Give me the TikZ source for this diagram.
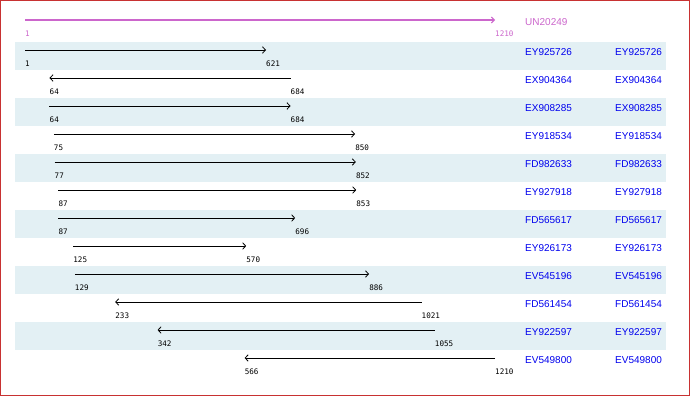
\documentclass[tikz,border=0pt]{standalone}
\usepackage{fontspec}
\setmainfont{Liberation Sans}
\newfontfamily\monof{DejaVu Sans Mono}
\usetikzlibrary{arrows.meta}
\definecolor{band}{RGB}{227,240,244}
\definecolor{magen}{RGB}{204,102,204}
\definecolor{namec}{RGB}{0,0,238}
\definecolor{frame}{RGB}{200,50,50}
\tikzset{
  bandrow/.style={fill=band,draw=none},
  seqarrow/.style={draw=black,line width=0.9pt,-{Straight Barb[length=3pt,width=6.5pt,line width=0.8pt]}},
  poslab/.style={anchor=west,inner sep=0pt,font=\monof\fontsize{7.6}{8}\selectfont,text=black},
  namelab/.style={anchor=west,inner sep=0pt,font=\fontsize{10}{12}\selectfont,text=namec},
}
\begin{document}
\begin{tikzpicture}[x=1pt,y=-1pt]
\useasboundingbox (0,0) rectangle (690,396);
\fill[white] (0,0) rectangle (690,396);
% bands
\foreach \i in {0,2,4,6,8,10}{
  \fill[band] (15,{42+28*\i}) rectangle (666,{70+28*\i});
}
% top reference line
\coordinate (r1) at (25,20);
\coordinate (r2) at (495,20);
\draw[magen,line width=2pt,-{Straight Barb[length=3pt,width=6pt,line width=1pt]}] (r1) -- (r2);
\node[poslab,text=magen] (rl1) at (25,34) {1};
\node[poslab,text=magen] (rl2) at (495,34) {1210};
\node[namelab,text=magen] (un) at (525,22) {UN20249};
% rows: index/start/end/dir/name
\foreach \i/\s/\e/\d/\n in {
 0/1/621/1/EY925726,
 1/64/684/0/EX904364,
 2/64/684/1/EX908285,
 3/75/850/1/EY918534,
 4/77/852/1/FD982633,
 5/87/853/1/EY927918,
 6/87/696/1/FD565617,
 7/125/570/1/EY926173,
 8/129/886/1/EV545196,
 9/233/1021/0/FD561454,
 10/342/1055/0/EY922597,
 11/566/1210/0/EV549800}{
  \pgfmathsetmacro{\xs}{25+(\s-1)/1209*470}
  \pgfmathsetmacro{\xe}{25+(\e-1)/1209*470}
  \pgfmathsetmacro{\yt}{42+28*\i}
  \coordinate (a\i) at (\xs,\yt+8);
  \coordinate (b\i) at (\xe,\yt+8);
  \ifnum\d=1
    \draw[seqarrow] (a\i) -- (b\i);
  \else
    \draw[seqarrow] (b\i) -- (a\i);
  \fi
  \node[poslab] (ls\i) at (\xs,\yt+22) {\s};
  \node[poslab] (le\i) at (\xe,\yt+22) {\e};
  \node[namelab] (n\i) at (525,\yt+10) {\n};
  \node[namelab] (m\i) at (615,\yt+10) {\n};
}
\draw[frame,line width=1.2pt] (0.6,0.6) rectangle (689.4,395.4);
\end{tikzpicture}
\end{document}
